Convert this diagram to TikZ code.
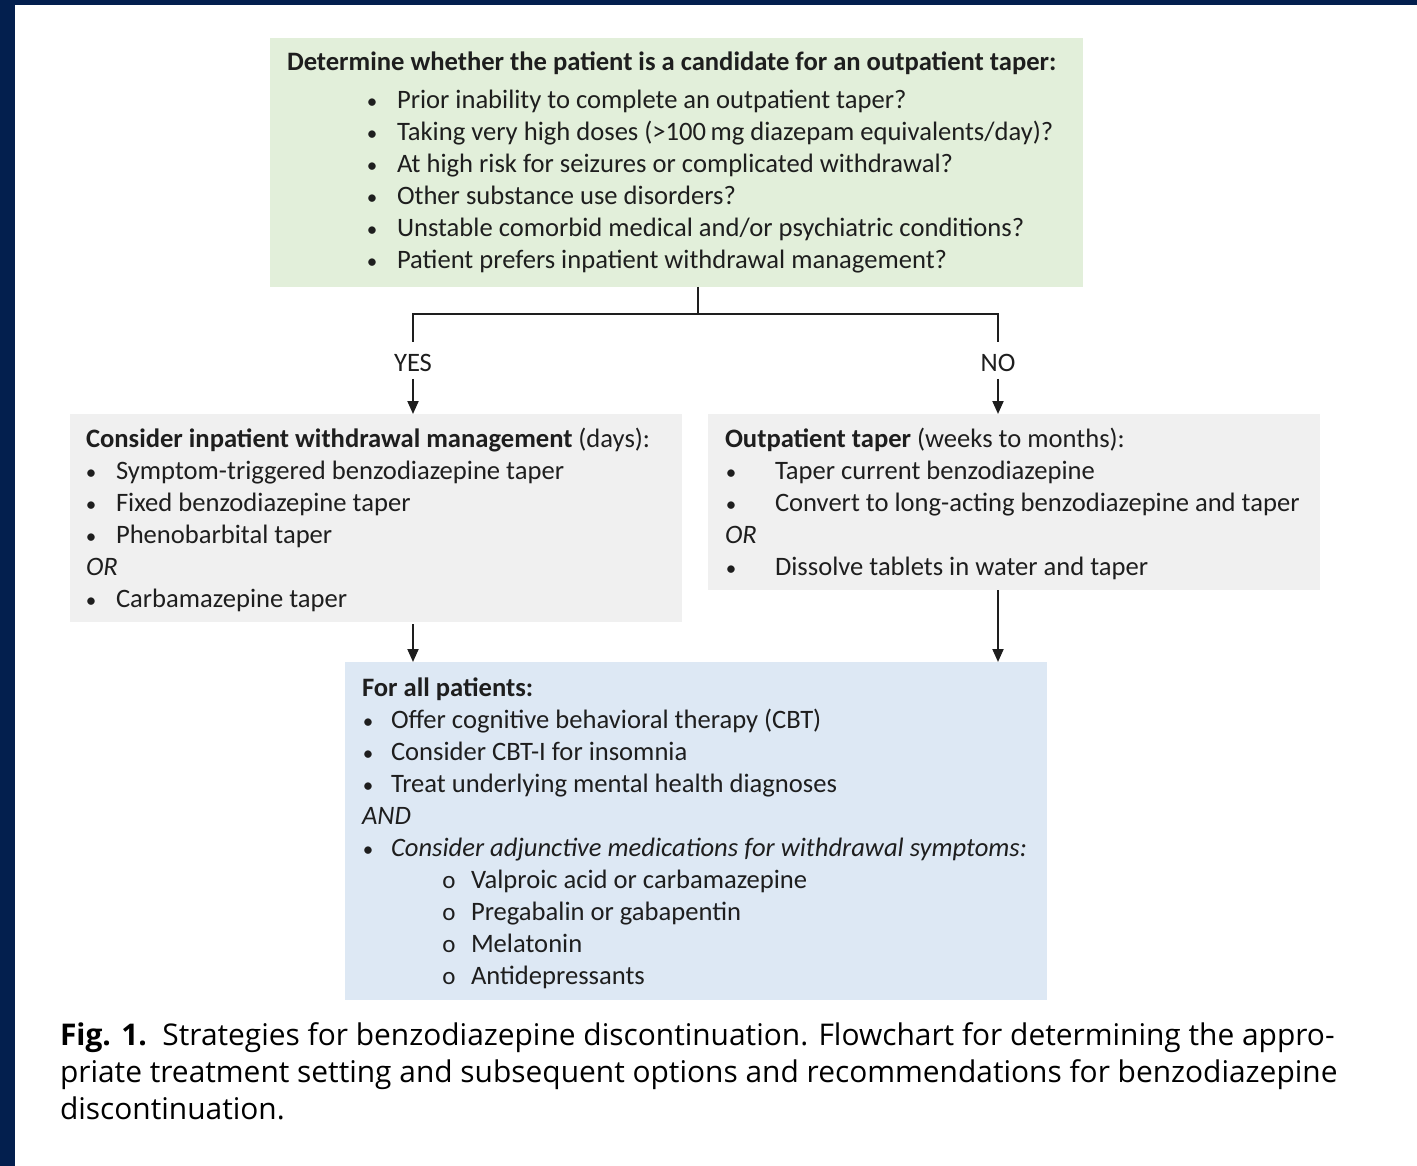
\documentclass[tikz,border=0pt]{standalone}
\usepackage{fontspec}
\usetikzlibrary{arrows.meta,calc}
\newfontfamily\bodyf{Carlito}
\newfontfamily\capf{Open Sans}
\definecolor{navy}{HTML}{031F4E}
\definecolor{gfill}{HTML}{E2EFDA}
\definecolor{grfill}{HTML}{F0F0F0}
\definecolor{bfill}{HTML}{DDE8F4}
\definecolor{txtc}{HTML}{1E1E1E}
\tikzset{
  panel/.style={draw=none, anchor=north west, inner sep=0, outer sep=0},
  txt/.style={anchor=base west, inner sep=0, outer sep=0, text=txtc, font=\bodyf\fontsize{26.6}{32}\selectfont},
  bul/.style={anchor=base, inner sep=0, outer sep=0, text=txtc, font=\bodyf\fontsize{21}{32}\selectfont},
  subbul/.style={anchor=base, inner sep=0, outer sep=0, text=txtc, font=\bodyf\fontsize{25}{32}\selectfont},
  lbl/.style={anchor=base, inner sep=0, outer sep=0, text=txtc, font=\bodyf\fontsize{26.6}{32}\selectfont},
  captxt/.style={anchor=base west, inner sep=0, outer sep=0, text=black, font=\capf\fontsize{29.9}{37}\selectfont},
  conn/.style={line width=2pt, draw=txtc},
  arr/.style={line width=2pt, draw=txtc, -{Triangle[length=13pt,width=11pt]}},
}
\begin{document}
\begin{tikzpicture}[x=1pt,y=-1pt]
\useasboundingbox (0,0) rectangle (1417,1166);
\fill[white] (0,0) rectangle (1417,1166);
\fill[navy] (0,0) rectangle (15,1166);
\fill[navy] (0,0) rectangle (1417,5);

% panels
\node[panel, fill=gfill, minimum width=813pt, minimum height=249pt] (top) at (270,38) {};
\node[panel, fill=grfill, minimum width=612pt, minimum height=208pt] (left) at (70,414) {};
\node[panel, fill=grfill, minimum width=612pt, minimum height=176pt] (right) at (708,414) {};
\node[panel, fill=bfill, minimum width=702pt, minimum height=338pt] (all) at (345,662) {};

% top text
\node[txt] (t0) at (287,71) {\textbf{Determine whether the patient is a candidate for an outpatient taper:}};
\foreach \y/\t [count=\i] in {109/{Prior inability to complete an outpatient taper?},
  141/{Taking very high doses (>100\,mg diazepam equivalents/day)?},
  173/{At high risk for seizures or complicated withdrawal?},
  205/{Other substance use disorders?},
  237/{Unstable comorbid medical and/or psychiatric conditions?},
  269/{Patient prefers inpatient withdrawal management?}}{
  \node[bul] (tb\i) at (372,\y) {•};
  \node[txt] (tt\i) at (397,\y) {\t};
}

% connectors
\coordinate (j) at (698,314);
\coordinate (yesTop) at (413,342);
\coordinate (noTop) at (998,342);
\node[lbl] (yes) at (413,371) {YES};
\node[lbl] (no) at (998,371) {NO};
\draw[conn] (top.south -| j) -- (j);
\draw[conn] (yesTop) -- (yesTop |- j) -- (noTop |- j) -- (noTop);
\draw[arr] ([yshift=-8pt]yes.base) -- (left.north -| yes);
\draw[arr] ([yshift=-8pt]no.base) -- (right.north -| no);
\draw[arr] ([yshift=-2pt]left.south -| yes) -- (all.north -| yes);
\draw[arr] (right.south -| no) -- (all.north -| no);

% left text
\node[txt] (l0) at (86,447) {\textbf{Consider inpatient withdrawal management} (days):};
\foreach \y/\t [count=\i] in {479/{Symptom-triggered benzodiazepine taper},
  511/{Fixed benzodiazepine taper},
  543/{Phenobarbital taper},
  607/{Carbamazepine taper}}{
  \node[bul] (lb\i) at (91,\y) {•};
  \node[txt] (lt\i) at (116,\y) {\t};
}
\node[txt] (lor) at (86,575) {\itshape OR};

% right text
\node[txt] (r0) at (725,447) {\textbf{Outpatient taper} (weeks to months):};
\foreach \y/\t [count=\i] in {479/{Taper current benzodiazepine},
  511/{Convert to long-acting benzodiazepine and taper},
  575/{Dissolve tablets in water and taper}}{
  \node[bul] (rb\i) at (731,\y) {•};
  \node[txt] (rt\i) at (775,\y) {\t};
}
\node[txt] (ror) at (725,543) {\itshape OR};

% bottom text
\node[txt] (a0) at (362,696) {\textbf{For all patients:}};
\foreach \y/\t [count=\i] in {728/{Offer cognitive behavioral therapy (CBT)},
  760/{Consider CBT-I for insomnia},
  792/{Treat underlying mental health diagnoses},
  856/{\itshape Consider adjunctive medications for withdrawal symptoms:}}{
  \node[bul] (ab\i) at (368,\y) {•};
  \node[txt] (at\i) at (391,\y) {\t};
}
\node[txt] (aand) at (362,824) {\itshape AND};
\foreach \y/\t [count=\i] in {888/{Valproic acid or carbamazepine},
  920/{Pregabalin or gabapentin},
  952/{Melatonin},
  984/{Antidepressants}}{
  \node[subbul] (sb\i) at (449,\y) {o};
  \node[txt] (st\i) at (471,\y) {\t};
}

% caption
\node[captxt] (c1) at (60,1045) {\textbf{Fig. 1.}\ \ Strategies for benzodiazepine discontinuation. Flowchart for determining the appro-};
\node[captxt] (c2) at (60,1082) {priate treatment setting and subsequent options and recommendations for benzodiazepine};
\node[captxt] (c3) at (60,1119) {discontinuation.};
\end{tikzpicture}
\end{document}
